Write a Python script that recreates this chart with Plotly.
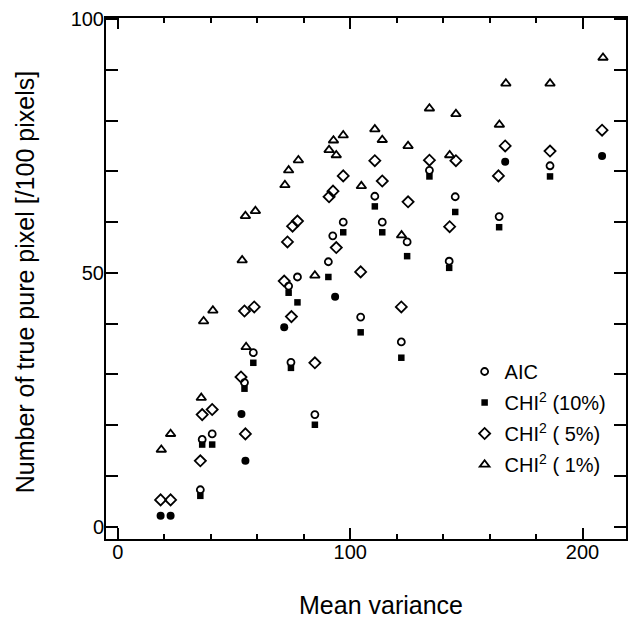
import plotly.graph_objects as go

# ---- data ----
aic_x = [35.5, 36.3, 40.6, 54.5, 58.3, 73.5, 74.5, 77.3, 84.8, 90.6, 92.5, 97.0, 104.5,
         110.6, 113.8, 122.0, 124.5, 134.1, 142.6, 145.2, 164.1, 186.0]
aic_y = [7.3, 17.2, 18.3, 28.4, 34.3, 47.4, 32.4, 49.2, 22.1, 52.2, 57.3, 60.0, 41.3,
         65.1, 60.0, 36.4, 56.1, 70.2, 52.3, 65.0, 61.1, 71.1]

chi10_x = [35.5, 36.3, 40.6, 54.5, 58.3, 73.5, 74.5, 77.3, 84.8, 90.6, 97.0, 104.5,
           110.6, 113.8, 122.0, 124.5, 134.1, 142.6, 145.2, 164.1, 186.0]
chi10_y = [6.1, 16.2, 16.2, 27.2, 32.3, 46.1, 31.3, 44.2, 20.1, 49.2, 58.0, 38.3,
           63.1, 58.0, 33.3, 53.3, 69.0, 51.0, 62.0, 59.0, 69.0]

chi5_x = [18.4, 22.7, 35.5, 36.3, 40.6, 53.0, 54.5, 54.9, 58.7, 71.6, 73.0, 74.7, 75.2,
          77.3, 84.8, 90.9, 92.6, 94.0, 97.0, 104.5, 110.6, 113.8, 122.0, 124.9, 134.1,
          142.8, 145.5, 163.8, 166.7, 186.0, 208.4]
chi5_y = [5.3, 5.3, 13.0, 22.1, 23.1, 29.5, 42.5, 18.3, 43.3, 48.4, 56.1, 41.4, 59.2,
          60.2, 32.3, 65.0, 66.1, 55.0, 69.1, 50.2, 72.1, 68.1, 43.3, 64.0, 72.2,
          59.1, 72.1, 69.1, 75.0, 74.0, 78.1]

chi1_x = [18.7, 22.7, 35.9, 36.9, 40.9, 53.5, 54.9, 55.2, 59.2, 71.9, 73.5, 77.7, 84.8,
          90.9, 92.8, 94.0, 97.0, 104.8, 110.6, 113.8, 122.1, 124.9, 134.1, 142.8,
          145.5, 164.2, 167.0, 186.0, 208.8]
chi1_y = [15.2, 18.3, 25.4, 40.5, 42.6, 52.5, 61.2, 35.4, 62.2, 67.3, 70.2, 72.2, 49.5,
          74.2, 76.1, 73.2, 77.1, 67.1, 78.3, 76.2, 57.4, 75.0, 82.4, 73.2,
          81.3, 79.2, 87.3, 87.3, 92.4]

# points where AIC and CHI2(10%) coincide (drawn as filled circles)
both_x = [18.4, 22.7, 53.2, 54.9, 71.6, 93.5, 166.7, 208.4]
both_y = [2.2, 2.2, 22.2, 13.0, 39.3, 45.3, 71.9, 73.0]

series_names = ["AIC", "CHI<sup>2</sup> (10%)", "CHI<sup>2</sup> ( 5%)", "CHI<sup>2</sup> ( 1%)"]
x_tick_vals = [0, 100, 200]
y_tick_vals = [0, 50, 100]

FONT = "Liberation Sans, Arial, Helvetica, sans-serif"

fig = go.Figure()
fig.add_trace(go.Scatter(x=both_x, y=both_y, mode="markers", showlegend=False,
                         marker=dict(symbol="circle", size=8, color="black")))
fig.add_trace(go.Scatter(x=aic_x, y=aic_y, mode="markers", name=series_names[0], legendgroup="a",
                         marker=dict(symbol="circle-open", size=7, color="black",
                                     line=dict(width=1.8, color="black"))))
fig.add_trace(go.Scatter(x=chi10_x, y=chi10_y, mode="markers", name=series_names[1], legendgroup="b",
                         marker=dict(symbol="square", size=6.5, color="black")))
fig.add_trace(go.Scatter(x=chi5_x, y=chi5_y, mode="markers", name=series_names[2], legendgroup="c",
                         marker=dict(symbol="diamond-open", size=8.5, color="black",
                                     line=dict(width=1.8, color="black"))))
fig.add_trace(go.Scatter(x=chi1_x, y=chi1_y, mode="markers", name=series_names[3], legendgroup="d",
                         marker=dict(symbol="triangle-up-open", size=8.5, color="black",
                                     line=dict(width=1.8, color="black"))))

W, H = 629, 621
L, R, T, B = 106, 1, 18, 82
pw, ph = W - L - R, H - T - B


def px(xp):
    return (xp - L) / pw


def py(yp):
    return (H - B - yp) / ph


fig.update_layout(
    width=W, height=H,
    margin=dict(l=L, r=R, t=T, b=B),
    paper_bgcolor="white", plot_bgcolor="white",
    font=dict(family=FONT, color="black", size=20),
    showlegend=True,
    legend=dict(x=px(466), y=py(352), xanchor="left", yanchor="top",
                font=dict(size=20, family=FONT), bgcolor="rgba(0,0,0,0)",
                tracegroupgap=2, itemwidth=30),
    xaxis=dict(range=[-5.1, 218.7], showline=True, linewidth=2, linecolor="black",
               mirror="ticks", ticks="inside", ticklen=11, tickwidth=1.5, tickcolor="black",
               tickvals=x_tick_vals, showgrid=False, zeroline=False,
               ticklabelstandoff=-6,
               tickfont=dict(size=20, family=FONT),
               minor=dict(dtick=20, tick0=0, ticks="inside", ticklen=5, tickwidth=1.5,
                          tickcolor="black", showgrid=False)),
    yaxis=dict(range=[-2.4, 100.2], showline=True, linewidth=2, linecolor="black",
               mirror="ticks", ticks="inside", ticklen=12, tickwidth=1.5, tickcolor="black",
               tickvals=y_tick_vals, showgrid=False, zeroline=False,
               ticklabelstandoff=-4,
               tickfont=dict(size=20, family=FONT),
               minor=dict(dtick=10, tick0=0, ticks="inside", ticklen=12, tickwidth=1.5,
                          tickcolor="black", showgrid=False)),
    annotations=[
        dict(text="Mean variance", xref="paper", yref="paper", x=px(382), y=py(605),
             xanchor="center", yanchor="middle", showarrow=False,
             font=dict(size=25, family=FONT)),
        dict(text="Number of true pure pixel [/100 pixels]", xref="paper", yref="paper",
             x=px(25), y=py(282), xanchor="center", yanchor="middle", textangle=-90,
             showarrow=False, font=dict(size=25, family=FONT)),
    ],
)

fig.write_html("out.html",
               config={"displayModeBar": False},
               post_script="document.body.style.margin='0px';"
                           "document.body.style.overflow='hidden';")
